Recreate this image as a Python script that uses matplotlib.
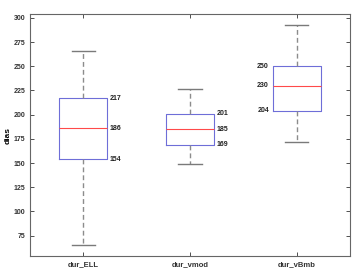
import matplotlib
matplotlib.use("Agg")
import matplotlib.pyplot as plt

categories = ["dur_ELL", "dur_vmod", "dur_vBmb"]
whisker_low = [65, 149, 172]
q1 = [154, 169, 204]
median = [186, 185, 230]
q3 = [217, 201, 250]
whisker_high = [266, 227, 293]
yticks = [75, 100, 125, 150, 175, 200, 225, 250, 275, 300]

plt.rcParams['font.family'] = ['Liberation Sans', 'DejaVu Sans']

fig = plt.figure(figsize=(3.61, 2.71), dpi=100)
ax = fig.add_axes([30/361, 1 - 256/271, 320/361, (256 - 14)/271])

stats = []
for i, c in enumerate(categories):
    stats.append(dict(label=c, whislo=whisker_low[i], q1=q1[i], med=median[i],
                      q3=q3[i], whishi=whisker_high[i], fliers=[]))

ax.bxp(stats, positions=[1, 2, 3], widths=0.45, showfliers=False,
       boxprops=dict(color='#6e6ed8', linewidth=0.8),
       medianprops=dict(color='#ff4a4a', linewidth=0.8),
       whiskerprops=dict(color='#8c8c8c', linewidth=1.0, linestyle=(0, (3.5, 2.2))),
       capprops=dict(color='#7a7a7a', linewidth=1.0),
       capwidths=0.22)

for i in range(3):
    pos = i + 1
    for v in (q1[i], median[i], q3[i]):
        if i < 2:
            ax.text(pos + 0.25, v, str(v), ha='left', va='center',
                    fontsize=5, fontweight='bold', color='#222222')
        else:
            ax.text(pos - 0.26, v, str(v), ha='right', va='center',
                    fontsize=5, fontweight='bold', color='#222222')

ax.set_xlim(0.5, 3.5)
ax.set_ylim(54, 304)
ax.set_yticks(yticks)
ax.set_xticks([1, 2, 3])
ax.set_xticklabels(categories)
ax.tick_params(axis='both', direction='in', length=3, width=0.6,
               labelsize=5, colors='#333333', top=True, right=True)
ax.tick_params(axis='x', labelsize=5.5)
for lab in ax.get_xticklabels() + ax.get_yticklabels():
    lab.set_fontweight('bold')
ax.set_ylabel('dias', fontsize=6, fontweight='bold', labelpad=1.5)
for s in ax.spines.values():
    s.set_color('#666666')
    s.set_linewidth(0.8)

fig.savefig('out.png', dpi=100)
